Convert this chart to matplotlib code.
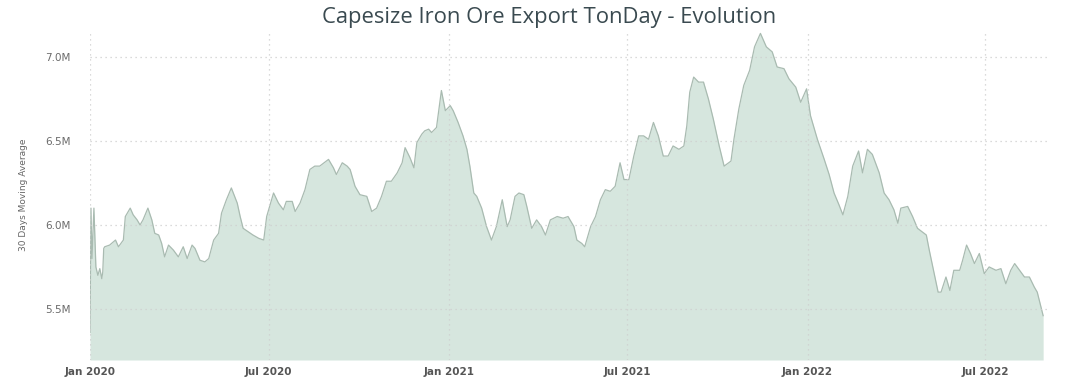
import matplotlib
matplotlib.use("Agg")
import numpy as np
import pandas as pd
import matplotlib.pyplot as plt
import matplotlib.dates as mdates
from matplotlib.ticker import FuncFormatter

# days since 2020-01-01
days = [0, 1, 2, 4, 6, 8, 10, 12, 13, 14, 15, 20, 26, 29, 34, 36, 41, 44, 48, 51,
        54, 59, 63, 66, 70, 73, 76, 80, 85, 90, 95, 99, 104, 107, 112, 117, 121, 126,
        131, 134, 139, 144, 150, 153, 156, 161, 166, 172, 177, 180, 187, 192, 197, 200,
        206, 209, 214, 219, 224, 229, 234, 243, 248, 251, 257, 262, 265, 270, 275,
        282, 287, 292, 297, 302, 307, 313, 318, 321, 326, 330, 333, 338, 341, 345,
        348, 353, 358, 362, 367, 370, 375, 380, 384, 387, 391, 394, 399, 404, 409,
        414, 420, 425, 428, 433, 437, 442, 445, 450, 455, 460, 464, 469, 476, 482,
        487, 493, 496, 501, 504, 510, 515, 520, 525, 530, 535, 540, 544, 549, 554,
        559, 564, 569, 574, 579, 584, 589, 594, 600, 605, 608, 611, 615, 620, 625,
        630, 635, 641, 646, 653, 656, 661, 666, 672, 677, 683, 689, 695, 700, 707,
        712, 719, 724, 730, 734, 741, 748, 753, 758, 763, 767, 772, 777, 783, 787,
        792, 797, 804, 809, 814, 819, 823, 826, 833, 838, 843, 852, 855, 860, 864,
        867, 872, 876, 880, 886, 889, 893, 897, 901, 906, 911, 916, 923, 928, 933,
        938, 942, 947, 952, 957, 962, 965, 971]
moving_avg = [5.36, 6.10, 5.80, 6.10, 5.75, 5.70, 5.74, 5.68, 5.72, 5.86, 5.87, 5.88,
              5.91, 5.87, 5.91, 6.05, 6.10, 6.06, 6.03, 6.00, 6.03, 6.10, 6.03, 5.95,
              5.94, 5.89, 5.81, 5.88, 5.85, 5.81, 5.87, 5.80, 5.88, 5.86, 5.79, 5.78,
              5.80, 5.91, 5.95, 6.07, 6.15, 6.22, 6.13, 6.05, 5.98, 5.96, 5.94, 5.92,
              5.91, 6.05, 6.19, 6.13, 6.09, 6.14, 6.14, 6.08, 6.13, 6.21, 6.33, 6.35,
              6.35, 6.39, 6.34, 6.30, 6.37, 6.35, 6.33, 6.23, 6.18, 6.17, 6.08, 6.10,
              6.17, 6.26, 6.26, 6.31, 6.37, 6.46, 6.40, 6.34, 6.49, 6.54, 6.56, 6.57,
              6.55, 6.58, 6.80, 6.68, 6.71, 6.68, 6.61, 6.53, 6.45, 6.35, 6.19, 6.17,
              6.10, 5.99, 5.91, 5.99, 6.15, 5.99, 6.03, 6.17, 6.19, 6.18, 6.11, 5.98,
              6.03, 5.99, 5.94, 6.03, 6.05, 6.04, 6.05, 5.99, 5.91, 5.89, 5.87, 5.99,
              6.05, 6.15, 6.21, 6.20, 6.23, 6.37, 6.27, 6.27, 6.41, 6.53, 6.53, 6.51,
              6.61, 6.53, 6.41, 6.41, 6.47, 6.45, 6.47, 6.59, 6.79, 6.88, 6.85, 6.85,
              6.75, 6.63, 6.47, 6.35, 6.38, 6.51, 6.69, 6.83, 6.92, 7.06, 7.14, 7.06,
              7.03, 6.94, 6.93, 6.87, 6.82, 6.73, 6.81, 6.65, 6.51, 6.39, 6.30, 6.19,
              6.12, 6.06, 6.17, 6.35, 6.44, 6.31, 6.45, 6.42, 6.31, 6.19, 6.15, 6.09,
              6.01, 6.10, 6.11, 6.05, 5.98, 5.94, 5.85, 5.71, 5.60, 5.60, 5.69, 5.61,
              5.73, 5.73, 5.79, 5.88, 5.83, 5.77, 5.83, 5.71, 5.75, 5.73, 5.74, 5.65,
              5.73, 5.77, 5.73, 5.69, 5.69, 5.63, 5.60, 5.46]
tick_dates = ["2020-01-01", "2020-07-01", "2021-01-01", "2021-07-01", "2022-01-01", "2022-07-01"]
y_ticks = [5.5e6, 6.0e6, 6.5e6, 7.0e6]

start = pd.Timestamp("2020-01-01")
dates = start + pd.to_timedelta(days, unit="D")
vals = np.array(moving_avg) * 1e6

fig = plt.figure(figsize=(10.79, 3.92), dpi=100)
ax = fig.add_axes([0.0834, 0.0816, 0.887, 0.8418])

ax.fill_between(dates, vals, 5.196e6, color="#d6e6de", linewidth=0)
ax.plot(dates, vals, color="#a9bbb1", linewidth=0.9)

ax.set_xlim(start, start + pd.Timedelta(days=975))
ax.set_ylim(5.196e6, 7.16e6)

ax.set_xticks(pd.to_datetime(tick_dates))
ax.xaxis.set_major_formatter(mdates.DateFormatter("%b %Y"))
ax.set_yticks(y_ticks)
ax.yaxis.set_major_formatter(FuncFormatter(lambda v, p: "%.1fM" % (v / 1e6)))

# dotted grid drawn over the area, like the original
ax.grid(True, color="#cfcfcf", linestyle=(0, (1, 3)), linewidth=0.9)
ax.set_axisbelow(False)
for s in ax.spines.values():
    s.set_visible(False)
ax.tick_params(axis="both", length=0)
ax.tick_params(axis="x", pad=5, labelsize=7.5, labelcolor="#555555")
ax.tick_params(axis="y", pad=14, labelsize=7.5, labelcolor="#6a6a6a")
for t in ax.get_xticklabels():
    t.set_fontweight("bold")

ax.set_ylabel("30 Days Moving Average", fontsize=6.5, color="#666666", labelpad=12)

fig.text(0.509, 0.955, "Capesize Iron Ore Export TonDay - Evolution", ha="center", va="center",
         fontsize=15.8, family="Open Sans", color="#3a4a50")

plt.savefig("out.png", dpi=100)
